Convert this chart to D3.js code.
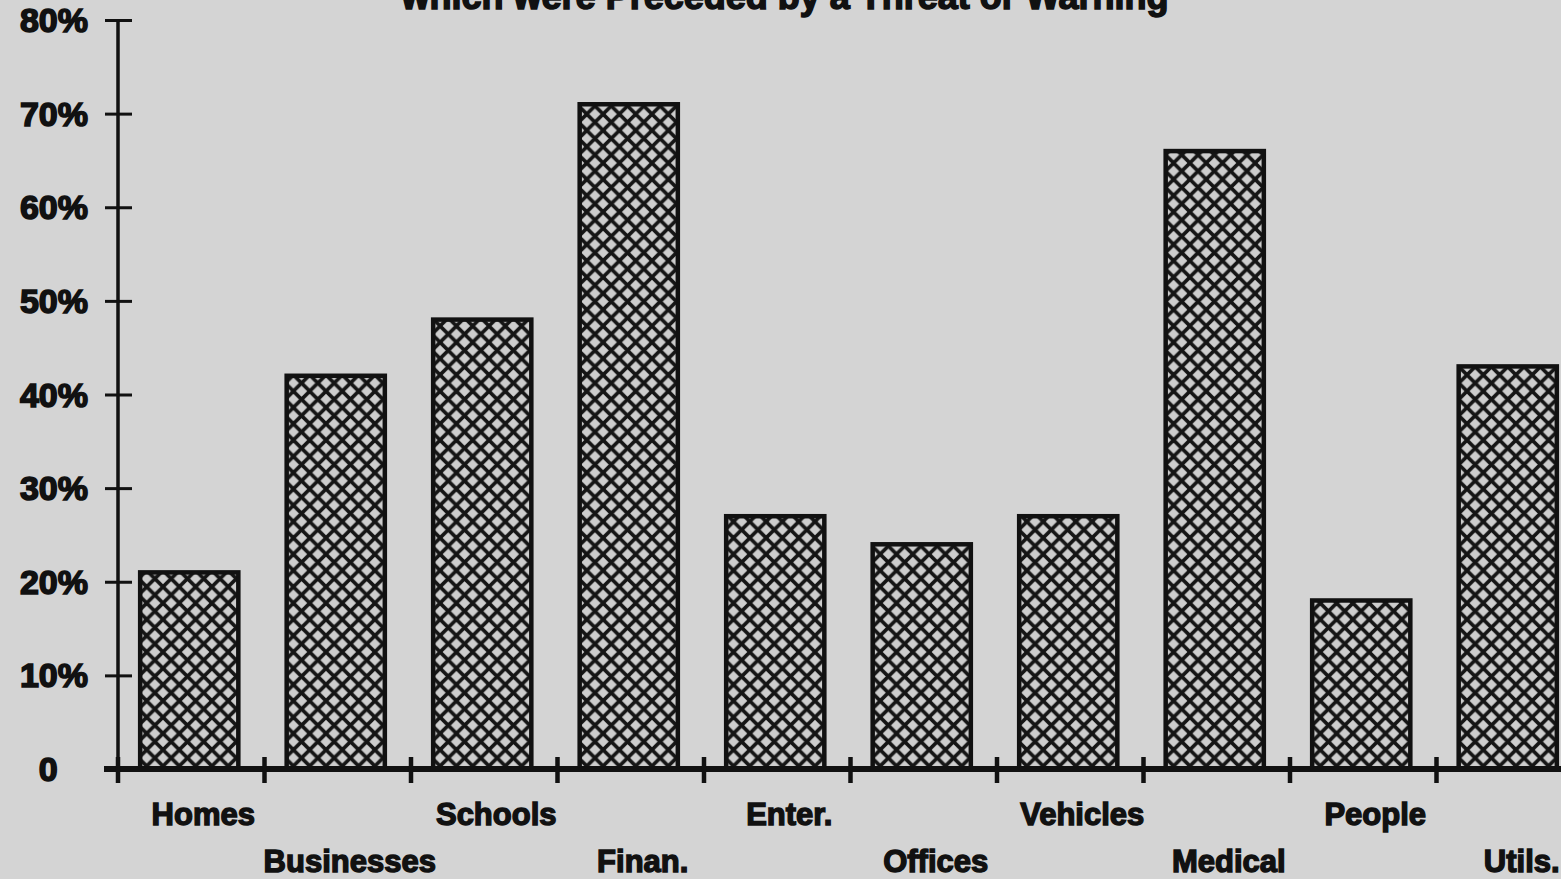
<!DOCTYPE html>
<html>
<head>
<meta charset="utf-8">
<script src="https://cdn.jsdelivr.net/npm/d3@7"></script>
<style>
  html, body { margin: 0; padding: 0; background: #d4d4d4; }
  svg { display: block; }
  text { font-family: "Liberation Sans", Arial, Helvetica, sans-serif; font-weight: bold; fill: #111; }
</style>
</head>
<body>
<svg id="chart" width="1561" height="879"></svg>
<script>
const titleText = "which were Preceded by a Threat or Warning";
const categories = ["Homes", "Businesses", "Schools", "Finan.", "Enter.", "Offices", "Vehicles", "Medical", "People", "Utils."];
const values = [21, 42, 48, 71, 27, 24, 27, 66, 18, 43];
const yTickValues = [0, 10, 20, 30, 40, 50, 60, 70, 80];
const yTickLabels = ["0", "10%", "20%", "30%", "40%", "50%", "60%", "70%", "80%"];

const W = 1561, H = 879;
const svg = d3.select("#chart");
svg.append("rect").attr("width", W).attr("height", H).attr("fill", "#d4d4d4");

const defs = svg.append("defs");
const pat = defs.append("pattern")
  .attr("id", "hatch").attr("patternUnits", "userSpaceOnUse")
  .attr("width", 16.3).attr("height", 16.3);
pat.append("rect").attr("width", 16.3).attr("height", 16.3).attr("fill", "#cdcdcd");
pat.append("path").attr("d", "M-2,-2 L18.3,18.3 M-2,18.3 L18.3,-2")
  .attr("stroke", "#151515").attr("stroke-width", 3.6);

const axisX0 = 118;
const step = 146.5;
// category boundaries (tick positions)
const xCat = d3.scaleBand().domain(categories)
  .range([axisX0, axisX0 + step * categories.length]).padding(0);
// bar placement
const x = d3.scaleBand().domain(categories)
  .range([axisX0 - 2, axisX0 - 2 + step * categories.length])
  .paddingInner(0.33).paddingOuter(0.165);
const y = d3.scaleLinear().domain([0, 80]).range([769, 20]);

// title (partially cut off at top)
svg.append("text").attr("x", 785).attr("y", 9).attr("text-anchor", "middle")
  .attr("font-size", 36).style("stroke", "#111").style("stroke-width", 1.5)
  .text(titleText);

// bars
svg.append("g").selectAll("rect").data(categories).join("rect")
  .attr("x", d => x(d))
  .attr("y", (d, i) => y(values[i]))
  .attr("width", x.bandwidth())
  .attr("height", (d, i) => y(0) - y(values[i]))
  .attr("fill", "url(#hatch)")
  .attr("stroke", "#111").attr("stroke-width", 4.5);

// y axis
const yAxis = d3.axisLeft(y).tickValues(yTickValues).tickFormat("").tickSize(0);
const gy = svg.append("g").attr("transform", `translate(${axisX0},0)`).call(yAxis);
gy.select(".domain").remove();
gy.append("line").attr("x1", 0).attr("x2", 0).attr("y1", y(80)).attr("y2", y(0))
  .attr("stroke", "#111").attr("stroke-width", 3.5);
gy.selectAll(".tick").append("line")
  .attr("x1", -13).attr("x2", 14).attr("y1", 0).attr("y2", 0)
  .attr("stroke", "#111").attr("stroke-width", 3);

// y labels
const yFont = 34;
const pctProbe = svg.append("text").attr("font-size", yFont).text("%");
const pctW = pctProbe.node().getComputedTextLength();
pctProbe.remove();
svg.append("g").selectAll("text").data(yTickValues).join("text")
  .attr("x", (d, i) => yTickLabels[i].endsWith("%") ? 88 : 88 - pctW)
  .attr("y", d => y(d) + 12)
  .attr("text-anchor", "end").attr("font-size", yFont)
  .style("stroke", "#111").style("stroke-width", 1.6)
  .text((d, i) => yTickLabels[i]);

// x axis
svg.append("line").attr("x1", 104).attr("x2", W).attr("y1", y(0)).attr("y2", y(0))
  .attr("stroke", "#111").attr("stroke-width", 6);
svg.append("g").selectAll("line").data(categories).join("line")
  .attr("x1", d => xCat(d)).attr("x2", d => xCat(d))
  .attr("y1", y(0) - 12).attr("y2", y(0) + 14)
  .attr("stroke", "#111").attr("stroke-width", 4.5);

// x labels (staggered)
svg.append("g").selectAll("text").data(categories).join("text")
  .attr("x", d => x(d) + x.bandwidth() / 2 + 14)
  .attr("y", (d, i) => i % 2 === 0 ? 825 : 872)
  .attr("text-anchor", "middle").attr("font-size", 31)
  .style("stroke", "#111").style("stroke-width", 1.4)
  .text(d => d);
</script>
</body>
</html>
